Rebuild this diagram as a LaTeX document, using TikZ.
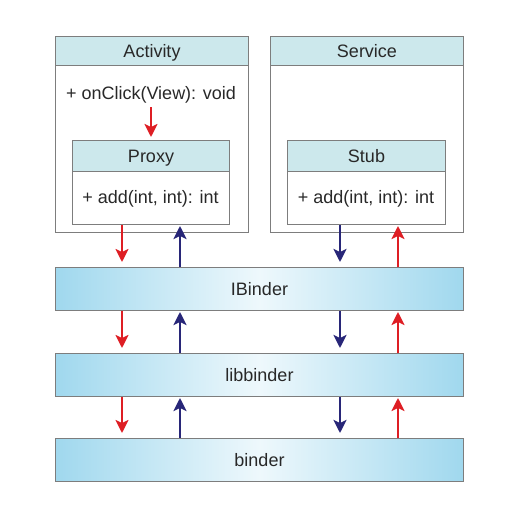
\documentclass[tikz,border=0pt]{standalone}
\usepackage{fontspec}
\setmainfont{Liberation Sans}
\usetikzlibrary{arrows.meta}
\definecolor{headcyan}{RGB}{204,232,236}
\definecolor{barblue}{RGB}{160,216,238}
\definecolor{barlight}{RGB}{238,248,252}
\definecolor{callred}{RGB}{222,30,36}
\definecolor{retblue}{RGB}{40,38,120}
\definecolor{edgegray}{RGB}{125,125,125}
\definecolor{textgray}{RGB}{40,40,40}
\tikzset{
  frame/.style={draw=edgegray,line width=1pt,anchor=north west,inner sep=0pt},
  head/.style={frame,fill=headcyan},
  layer/.style={frame,left color=barblue,right color=barblue,middle color=barlight},
  callarr/.style={draw=callred,line width=2.3pt,-{Stealth[length=13pt,width=13pt,inset=3pt]}},
  retarr/.style={draw=retblue,line width=2.5pt,-{Stealth[length=13pt,width=13pt,inset=3pt]}}
}
\begin{document}
\begin{tikzpicture}[x=1pt,y=-1pt,font=\fontsize{18}{21}\selectfont,text=textgray,
    every node/.append style={text height=16pt,text depth=3pt}]
        \useasboundingbox (0,0) rectangle (531,522);
        % client side
        \node[frame,minimum width=193,minimum height=196] (activity) at (55,36) {};
        \node[head,minimum width=193,minimum height=29] (activityhead) at (55,36) {Activity};
        \node (onclick) at (151,93) {+ onClick(View): void};
        \node[frame,minimum width=157,minimum height=84] (proxy) at (72,140) {};
        \node[head,minimum width=157,minimum height=31] (proxyhead) at (72,140) {Proxy};
        \node (proxyadd) at (150.5,197) {+ add(int, int): int};
        % server side
        \node[frame,minimum width=193,minimum height=196] (service) at (270,36) {};
        \node[head,minimum width=193,minimum height=29] (servicehead) at (270,36) {Service};
        \node[frame,minimum width=158,minimum height=84] (stub) at (287,140) {};
        \node[head,minimum width=158,minimum height=31] (stubhead) at (287,140) {Stub};
        \node (stubadd) at (366,197) {+ add(int, int): int};
        % layers
        \node[layer,minimum width=408,minimum height=43] (ibinder) at (55,267) {IBinder};
        \node[layer,minimum width=408,minimum height=43] (libbinder) at (55,353) {libbinder};
        \node[layer,minimum width=408,minimum height=43] (binder) at (55,438) {binder};
        % arrow columns
        \coordinate (xa) at (122,0);
        \coordinate (xb) at (180,0);
        \coordinate (xc) at (340,0);
        \coordinate (xd) at (398,0);
        \draw[callarr,shorten <=1pt,shorten >=3pt] (onclick.south) -- (proxyhead.north);
        \draw[callarr,shorten >=5pt] (proxy.south -| xa) -- (ibinder.north -| xa);
        \draw[retarr,shorten >=1pt] (ibinder.north -| xb) -- (proxy.south -| xb);
        \draw[retarr,shorten >=5pt] (stub.south -| xc) -- (ibinder.north -| xc);
        \draw[callarr,shorten >=1pt] (ibinder.north -| xd) -- (stub.south -| xd);
        \foreach \upper/\lower in {ibinder/libbinder,libbinder/binder} {
          \draw[callarr,shorten >=5pt] (\upper.south -| xa) -- (\lower.north -| xa);
          \draw[retarr,shorten >=1pt] (\lower.north -| xb) -- (\upper.south -| xb);
          \draw[retarr,shorten >=5pt] (\upper.south -| xc) -- (\lower.north -| xc);
          \draw[callarr,shorten >=1pt] (\lower.north -| xd) -- (\upper.south -| xd);
        }
    \end{tikzpicture}
\end{document}
